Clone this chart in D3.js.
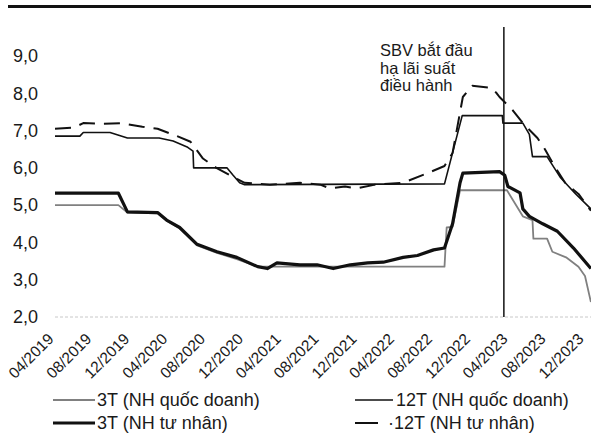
<!DOCTYPE html>
<meta charset="utf-8">
<style>
body { margin: 0; background: #fff; }
text { font-family: "Liberation Sans", Arial, sans-serif; fill: #1a1a1a; }
.axis text { font-size: 18px; }
.axis .domain { display: none; }
.series { fill: none; stroke-linejoin: round; }
</style>
<svg width="591" height="439"></svg>
<script src="https://cdn.jsdelivr.net/npm/d3@7"></script>
<script>

// 3T (NH quốc doanh)
var state3 = [
  ["2019-04-01", 5.0], ["2019-10-22", 5.0], ["2019-11-20", 4.8], ["2020-02-25", 4.78],
  ["2020-03-25", 4.58], ["2020-05-06", 4.38], ["2020-07-01", 3.92], ["2020-09-03", 3.72],
  ["2020-11-06", 3.55], ["2021-01-12", 3.35], ["2021-01-30", 3.35], ["2022-09-05", 3.35],
  ["2022-09-12", 4.4], ["2022-10-01", 4.42], ["2022-10-25", 5.4], ["2023-03-25", 5.4],
  ["2023-05-15", 4.7], ["2023-06-15", 4.6], ["2023-06-18", 4.1], ["2023-08-01", 4.1],
  ["2023-08-18", 3.75], ["2023-10-01", 3.6], ["2023-11-10", 3.35], ["2023-12-01", 3.1],
  ["2023-12-20", 2.4]
];

// 12T (NH quốc doanh)
var state12 = [
  ["2019-04-01", 6.85], ["2019-06-20", 6.85], ["2019-07-01", 6.95], ["2019-09-25", 6.95],
  ["2019-11-20", 6.8], ["2020-03-01", 6.8], ["2020-04-15", 6.72], ["2020-06-01", 6.55],
  ["2020-06-18", 6.45], ["2020-06-20", 6.0], ["2020-10-05", 6.0], ["2020-10-25", 5.8],
  ["2020-11-15", 5.6], ["2020-12-01", 5.55], ["2022-09-05", 5.57], ["2022-11-01", 7.4],
  ["2023-03-10", 7.4], ["2023-03-12", 7.2], ["2023-05-15", 7.2], ["2023-06-05", 6.9],
  ["2023-06-15", 6.3], ["2023-08-01", 6.3], ["2023-09-12", 5.75], ["2023-11-01", 5.3],
  ["2023-12-20", 4.9]
];

// 3T (NH tư nhân)
var priv3 = [
  ["2019-04-01", 5.32], ["2019-10-22", 5.32], ["2019-11-20", 4.82], ["2020-02-25", 4.8],
  ["2020-03-25", 4.6], ["2020-05-06", 4.4], ["2020-07-01", 3.95], ["2020-09-03", 3.75],
  ["2020-11-06", 3.6], ["2021-01-12", 3.35], ["2021-02-12", 3.3], ["2021-03-15", 3.45],
  ["2021-05-28", 3.4], ["2021-07-22", 3.4], ["2021-09-12", 3.3], ["2021-11-06", 3.4],
  ["2022-01-01", 3.45], ["2022-02-20", 3.47], ["2022-04-25", 3.6], ["2022-06-10", 3.65],
  ["2022-08-01", 3.8], ["2022-09-05", 3.85], ["2022-10-01", 4.5], ["2022-10-25", 5.6],
  ["2022-11-03", 5.86], ["2023-03-01", 5.9], ["2023-03-18", 5.8], ["2023-03-28", 5.5],
  ["2023-05-06", 5.33], ["2023-05-15", 4.9], ["2023-06-05", 4.7], ["2023-07-18", 4.5],
  ["2023-09-03", 4.3], ["2023-10-25", 3.85], ["2023-12-20", 3.3]
];

// 12T (NH tư nhân)
var priv12 = [
  ["2019-04-01", 7.05], ["2019-06-01", 7.08], ["2019-07-01", 7.2], ["2019-09-01", 7.18],
  ["2019-10-28", 7.2], ["2020-01-07", 7.1], ["2020-02-25", 7.05], ["2020-04-28", 6.85],
  ["2020-06-10", 6.7], ["2020-07-20", 6.25], ["2020-09-01", 6.0], ["2020-10-15", 5.8],
  ["2020-12-01", 5.6], ["2021-02-20", 5.55], ["2021-05-28", 5.6], ["2021-08-01", 5.55],
  ["2021-09-01", 5.45], ["2021-10-20", 5.5], ["2021-11-28", 5.45], ["2022-01-25", 5.55],
  ["2022-04-25", 5.6], ["2022-07-10", 5.85], ["2022-09-05", 6.05], ["2022-10-01", 6.4],
  ["2022-11-03", 7.9], ["2022-12-03", 8.2], ["2023-02-01", 8.15], ["2023-02-20", 8.0],
  ["2023-03-01", 7.9], ["2023-04-12", 7.55], ["2023-05-15", 7.2], ["2023-07-01", 6.8],
  ["2023-07-25", 6.5], ["2023-08-28", 6.0], ["2023-09-28", 5.6], ["2023-11-10", 5.3],
  ["2023-12-20", 4.85]
];

var xTicks = ["2019-04-01", "2019-08-01", "2019-12-01", "2020-04-01", "2020-08-01",
  "2020-12-01", "2021-04-01", "2021-08-01", "2021-12-01", "2022-04-01", "2022-08-01",
  "2022-12-01", "2023-04-01", "2023-08-01", "2023-12-01"];
var yTicks = [2, 3, 4, 5, 6, 7, 8, 9];
var cutDate = "2023-03-15";
var note = ["SBV bắt đầu", "hạ lãi suất", "điều hành"];

var series = [
  {name: "3T (NH quốc doanh)", data: state3, color: "#808080", width: 1.8, dash: null},
  {name: "12T (NH quốc doanh)", data: state12, color: "#111", width: 1.6, dash: null},
  {name: "3T (NH tư nhân)", data: priv3, color: "#111", width: 3.2, dash: null},
  {name: "·12T (NH tư nhân)", data: priv12, color: "#111", width: 2, dash: "16,9"}
];

var parse = d3.timeParse("%Y-%m-%d");
var svg = d3.select("svg");

var x = d3.scaleTime()
    .domain([parse("2019-04-01"), parse("2023-12-01")])
    .range([55, 585]);

var y = d3.scaleLinear()
    .domain([2, 9])
    .range([317, 56]);

// top rule
svg.append("line")
    .attr("x1", 8).attr("x2", 591)
    .attr("y1", 6.5).attr("y2", 6.5)
    .attr("stroke", "#111")
    .attr("stroke-width", 3);

// baseline
svg.append("line")
    .attr("x1", 55).attr("x2", 591)
    .attr("y1", y(2)).attr("y2", y(2))
    .attr("stroke", "#c8c8c8")
    .attr("stroke-width", 1)
    .attr("stroke-dasharray", "3,2");

var yAxis = svg.append("g")
    .attr("class", "axis")
    .attr("transform", "translate(40,0)")
    .call(d3.axisLeft(y).tickValues(yTicks).tickSize(0).tickPadding(2)
      .tickFormat(function(d) { return d3.format(".1f")(d).replace(".", ","); }));

var xAxis = svg.append("g")
    .attr("class", "axis")
    .attr("transform", "translate(0," + y(2) + ")")
    .call(d3.axisBottom(x).tickValues(xTicks.map(parse)).tickSize(0)
      .tickFormat(d3.timeFormat("%m/%Y")));

xAxis.selectAll("text")
    .style("font-size", "15.5px")
    .attr("text-anchor", "end")
    .attr("dy", null)
    .attr("y", 0)
    .attr("transform", "translate(-1,23) rotate(-45)");

var line = d3.line()
    .x(function(d) { return x(parse(d[0])); })
    .y(function(d) { return y(d[1]); });

svg.selectAll(".series")
  .data(series)
  .enter().append("path")
    .attr("class", "series")
    .attr("d", function(d) { return line(d.data); })
    .attr("stroke", function(d) { return d.color; })
    .attr("stroke-width", function(d) { return d.width; })
    .attr("stroke-dasharray", function(d) { return d.dash; });

// policy rate cut marker
svg.append("line")
    .attr("x1", x(parse(cutDate))).attr("x2", x(parse(cutDate)))
    .attr("y1", 27).attr("y2", y(2))
    .attr("stroke", "#111")
    .attr("stroke-width", 1.5);

svg.append("text")
    .attr("x", 380)
    .attr("y", 56)
    .style("font-size", "16.5px")
    .selectAll("tspan")
    .data(note)
    .enter().append("tspan")
      .attr("x", 380)
      .attr("dy", function(d, i) { return i ? 17.5 : 0; })
      .text(function(d) { return d; });

// legend
var legendPos = [[53, 400], [355, 400], [53, 423], [355, 423]];

var legend = svg.selectAll(".legend")
  .data(series)
  .enter().append("g")
    .attr("class", "legend")
    .attr("transform", function(d, i) { return "translate(" + legendPos[i][0] + "," + legendPos[i][1] + ")"; });

legend.append("line")
    .attr("x1", 0)
    .attr("x2", function(d, i) { return i % 2 ? 38 : 42; })
    .attr("stroke", function(d) { return d.color; })
    .attr("stroke-width", function(d) { return d.width; })
    .attr("stroke-dasharray", function(d) { return d.dash ? "23,20" : null; });

legend.append("text")
    .attr("x", function(d, i) { return i % 2 ? (d.dash ? 33 : 41) : 44; })
    .attr("dy", "0.35em")
    .style("font-size", "18px")
    .text(function(d) { return d.name; });

</script>
